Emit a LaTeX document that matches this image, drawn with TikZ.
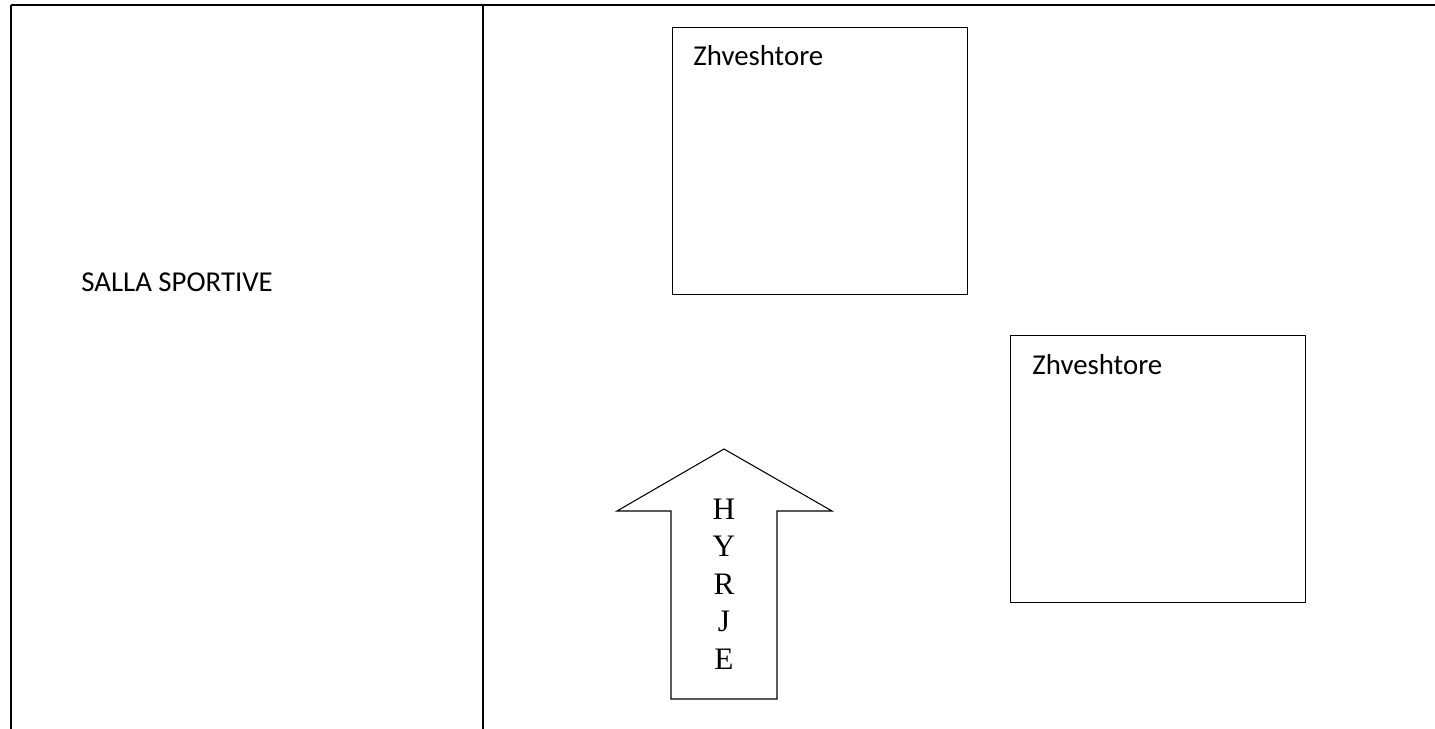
\documentclass[tikz,border=0pt]{standalone}
\usepackage{fontspec}
\setmainfont{Carlito}
\newfontfamily\hyrjefont{Liberation Serif}
\usetikzlibrary{positioning}

\begin{document}
\begin{tikzpicture}[x=0.02cm, y=-0.02cm,
  room/.style={draw, line width=0.8pt, minimum width=5.9cm, minimum height=5.34cm, anchor=north west},
  label/.style={anchor=base west, inner sep=0pt, font=\fontsize{16.4}{19}\selectfont}]
\useasboundingbox (0,0) rectangle (1435,729);

% table lines
\draw[line width=1.1pt] (11,5) -- (1435,5);
\draw[line width=1.1pt] (11,5) -- (11,729);
\draw[line width=1.1pt] (483,5) -- (483,729);

\node[label] (hall) at (81,292) {SALLA SPORTIVE};

% changing rooms
\node[room] (R1) at (672,27)  {};
\node[room] (R2) at (1010,335) {};
\node[label] (L1) at (693,66)  {Zhveshtore};
\node[label] (L2) at (1032,374) {Zhveshtore};

% entrance arrow
\draw[line width=0.6pt] (724,449) -- (832,511) -- (777,511) -- (777,699)
  -- (671,699) -- (671,511) -- (617,511) -- cycle;
\foreach \l [count=\i] in {H,Y,R,J,E}
  \node[anchor=base, inner sep=0pt, font=\hyrjefont\fontsize{17.8}{21}\selectfont] (E\i) at (724,{519+37.5*(\i-1)}) {\l};
\end{tikzpicture}
\end{document}
